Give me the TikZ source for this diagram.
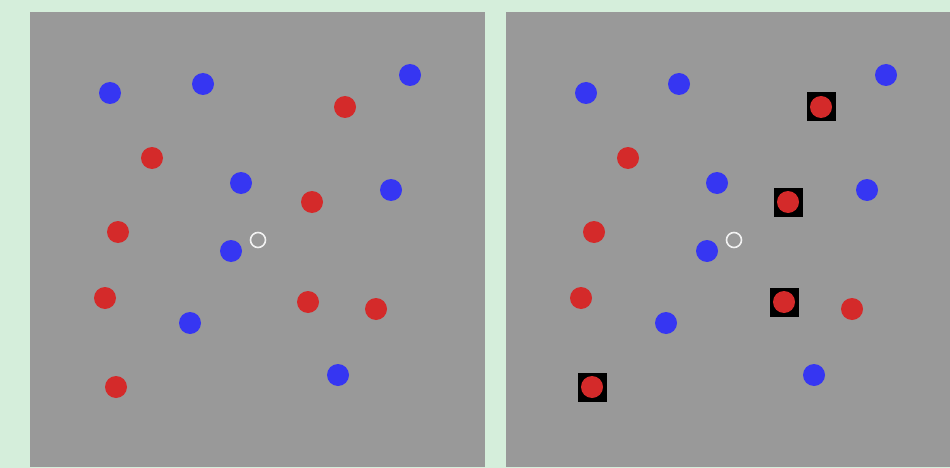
\documentclass[tikz,border=0pt]{standalone}
\definecolor{bggreen}{HTML}{D5EEDB}
\definecolor{panelgray}{HTML}{999999}
\definecolor{dotblue}{HTML}{3636F2}
\definecolor{dotred}{HTML}{D42A2A}
\begin{document}
\begin{tikzpicture}[x=1pt,y=-1pt,
  bluedot/.style={circle,fill=dotblue,draw=none,minimum size=22pt,inner sep=0pt},
  reddot/.style={circle,fill=dotred,draw=none,minimum size=22pt,inner sep=0pt},
  ring/.style={circle,draw=white!90!gray,line width=1.6pt,minimum size=15pt,inner sep=0pt},
  marked/.style={fill=black,draw=none,minimum size=29pt,inner sep=0pt}]
\fill[bggreen] (0,0) rectangle (950,468);
\useasboundingbox (0,0) rectangle (950,468);
\fill[panelgray] (30,12) rectangle (485,467);
\fill[panelgray] (506,12) rectangle (950,467);
% left panel
\node[bluedot] (lb1) at (110,93) {};
\node[bluedot] (lb2) at (203,84) {};
\node[bluedot] (lb3) at (410,75) {};
\node[bluedot] (lb4) at (241,183) {};
\node[bluedot] (lb5) at (391,190) {};
\node[bluedot] (lb6) at (231,251) {};
\node[bluedot] (lb7) at (190,323) {};
\node[bluedot] (lb8) at (338,375) {};
\node[reddot] (lr1) at (345,107) {};
\node[reddot] (lr2) at (152,158) {};
\node[reddot] (lr3) at (312,202) {};
\node[reddot] (lr4) at (118,232) {};
\node[reddot] (lr5) at (105,298) {};
\node[reddot] (lr6) at (308,302) {};
\node[reddot] (lr7) at (376,309) {};
\node[reddot] (lr8) at (116,387) {};
\node[ring] (lring) at (258,240) {};
% right panel markers
\node[marked] (m1) at (821,107) {};
\node[marked] (m2) at (788,202) {};
\node[marked] (m3) at (784,302) {};
\node[marked] (m4) at (592,387) {};
% right panel
\node[bluedot] (rb1) at (586,93) {};
\node[bluedot] (rb2) at (679,84) {};
\node[bluedot] (rb3) at (886,75) {};
\node[bluedot] (rb4) at (717,183) {};
\node[bluedot] (rb5) at (867,190) {};
\node[bluedot] (rb6) at (707,251) {};
\node[bluedot] (rb7) at (666,323) {};
\node[bluedot] (rb8) at (814,375) {};
\node[reddot] (rr1) at (821,107) {};
\node[reddot] (rr2) at (628,158) {};
\node[reddot] (rr3) at (788,202) {};
\node[reddot] (rr4) at (594,232) {};
\node[reddot] (rr5) at (581,298) {};
\node[reddot] (rr6) at (784,302) {};
\node[reddot] (rr7) at (852,309) {};
\node[reddot] (rr8) at (592,387) {};
\node[ring] (rring) at (734,240) {};
\end{tikzpicture}
\end{document}
